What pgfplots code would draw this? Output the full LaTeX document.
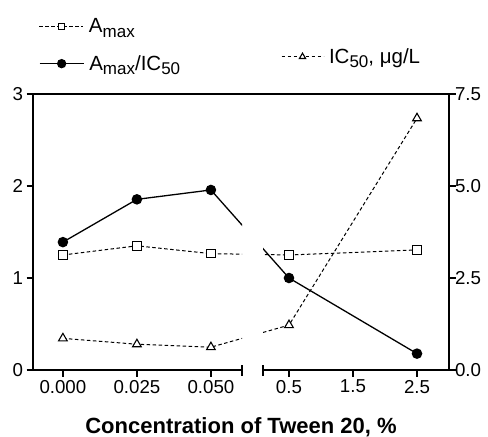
\documentclass[border=0pt]{standalone}
\usepackage{pgfplots}
\pgfplotsset{compat=1.18}
\usepackage{fontspec}
\setmainfont{Liberation Sans}
\newcommand\sub[1]{\raisebox{-4.5pt}{\fontsize{17}{17}\selectfont #1}}

\pgfplotstableread{
x y
0.000 1.25
0.025 1.35
0.050 1.265
0.07638 1.25
}\amaxL
\pgfplotstableread{
x y
-0.7184 1.265
0.5 1.25
2.5 1.305
}\amaxR
\pgfplotstableread{
x y
0.000 1.39
0.025 1.855
0.050 1.957
0.07638 1.00
}\ratioL
\pgfplotstableread{
x y
-0.7184 1.957
0.5 1.00
2.5 0.178
}\ratioR
\pgfplotstableread{
x y
0.000 0.86
0.025 0.70
0.050 0.62
0.07638 1.22
}\icL
\pgfplotstableread{
x y
-0.7184 0.62
0.5 1.22
2.5 6.84
}\icR

\pgfplotsset{
  base/.style={scale only axis, anchor=south west, height=276pt, ymin=0,
    scaled x ticks=false, scaled y ticks=false,
    axis line style={line width=1.4pt,-},
    every outer x axis line/.append style={-},
    every outer y axis line/.append style={-},
    tick style={line width=1.4pt, black},
    major tick length=6.5pt, tick align=outside,
    tick label style={font=\fontsize{18.7}{20}\selectfont},
    /pgf/number format/assume math mode=true,
    legend style={draw=none, fill=none, inner sep=0pt, outer sep=0pt,
      column sep=3pt,
      font=\fontsize{20.5}{22}\selectfont, nodes={inner sep=2pt}},
    legend cell align=left,
    legend image code/.code={\draw[mark repeat=2,mark phase=2,#1] plot coordinates {(0pt,0pt)(22pt,0pt)(44pt,0pt)};},
  },
  amax/.style={black, line width=1pt, dash pattern=on 3.5pt off 2.5pt,
    mark=square*, mark size=4.3pt, mark options={solid, fill=white, line width=1.1pt}},
  ratio/.style={black, line width=1.3pt, solid, mark=*, mark size=4.6pt,
    mark options={solid, fill=black}},
  ic/.style={black, line width=1pt, dash pattern=on 3.5pt off 2.5pt,
    mark=triangle*, mark size=5pt, mark options={solid, fill=white, line width=1.1pt}},
}

\begin{document}
\begin{tikzpicture}
\useasboundingbox (0pt,0pt) rectangle (488pt,-437pt);

% frame top line and x label
\begin{axis}[base, at={(33pt,-370pt)}, width=416pt, xmin=0, xmax=1, ymax=1,
  axis x line*=top, axis y line=none, xtick=\empty, ytick=\empty,
  xlabel={\bfseries Concentration of Tween 20, \%},
  every axis x label/.style={at={(axis description cs:0.5,-0.2283)}, anchor=base,
    font=\fontsize{22}{24}\selectfont}]
\end{axis}

% left part, left scale
\begin{axis}[base, at={(33pt,-370pt)}, width=209pt,
  xmin=-0.0101, xmax=0.0605, ymax=3,
  axis x line*=bottom, axis y line*=left,
  xtick={0,0.025,0.05}, xticklabels={0.000,0.025,0.050},
  ytick={0,1,2,3}, yticklabels={0,1,2,3},
  extra x ticks={0.0605}, extra x tick labels={},
  extra x tick style={major tick length=11pt, tick align=center},
  legend style={at={(axis description cs:0.0287,1.245)}, anchor=west}]
\addlegendimage{amax, mark size=3.3pt}
\addlegendentry{A\sub{max}}
\addplot[amax, forget plot] table {\amaxL};
\addplot[ratio, forget plot] table {\ratioL};
\end{axis}

% left part, right scale (hidden)
\begin{axis}[base, at={(33pt,-370pt)}, width=209pt,
  xmin=-0.0101, xmax=0.0605, ymax=7.5, hide axis,
  legend style={at={(axis description cs:0.0287,1.110)}, anchor=west}]
\addlegendimage{ratio, mark size=4pt}
\addlegendentry{A\sub{max}/IC\sub{50}}
\addplot[ic, forget plot] table {\icL};
\end{axis}

% right part, left scale
\begin{axis}[base, at={(263pt,-370pt)}, width=186pt,
  xmin=0.094, xmax=3.0, ymax=3,
  axis x line*=bottom, axis y line=none,
  xtick={0.5,1.5,2.5}, xticklabels={0.5,1.5,2.5}, ytick=\empty,
  extra x ticks={0.094}, extra x tick labels={},
  extra x tick style={major tick length=11pt, tick align=center}]
\addplot[amax, forget plot] table {\amaxR};
\addplot[ratio, forget plot] table {\ratioR};
\end{axis}

% right part, right scale
\begin{axis}[base, at={(263pt,-370pt)}, width=186pt,
  xmin=0.094, xmax=3.0, ymax=7.5,
  axis x line=none, axis y line*=right,
  ytick={0,2.5,5,7.5}, yticklabels={0.0,2.5,5.0,7.5},
  yticklabel style={xshift=-4pt},
  legend image code/.code={\draw[mark repeat=2,mark phase=2,#1] plot coordinates {(0pt,0pt)(21pt,0pt)(42pt,0pt)};},
  legend style={at={(axis description cs:0.0968,1.135)}, anchor=west}]
\addlegendimage{ic, mark size=3.6pt}
\addlegendentry{IC\sub{50}, μg/L}
\addplot[ic, forget plot] table {\icR};
\end{axis}
\end{tikzpicture}
\end{document}
